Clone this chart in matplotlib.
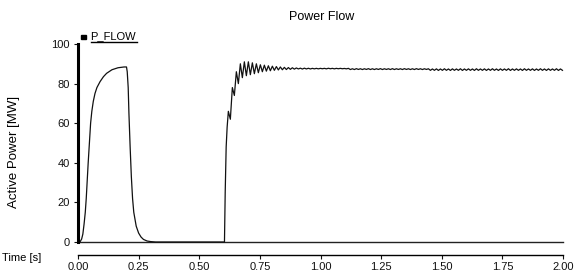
import numpy as np
import matplotlib.pyplot as plt
from matplotlib.lines import Line2D

plt.rcParams['font.family'] = ['Liberation Sans', 'DejaVu Sans']

# first pulse: time (s) and active power (MW)
t_pulse = [0.000, 0.008, 0.015, 0.020, 0.025, 0.030, 0.034, 0.038, 0.042, 0.047,
           0.052, 0.057, 0.063, 0.070, 0.078, 0.091, 0.105, 0.118, 0.140, 0.165,
           0.190, 0.200, 0.203, 0.207, 0.210, 0.215, 0.220,
           0.225, 0.230, 0.240, 0.250, 0.260, 0.270, 0.285, 0.300, 0.320, 0.600,
           0.604, 0.607, 0.611, 0.615]
p_pulse = [0, 0, 1.5, 4, 9, 15, 22, 31, 40, 50,
           60, 66, 71, 75, 78, 81, 83.5, 85.2, 87, 88,
           88.4, 88.4, 86, 78, 65, 48, 33,
           22, 15, 8, 4.5, 2.5, 1.3, 0.5, 0.2, 0, 0,
           0, 25, 48, 58]

# oscillating part after reconnection, sampled every half period from t = 0.62 s
t_osc_start = 0.62
t_osc_step = 0.00825
p_osc = [66, 62, 78, 74, 86, 80, 90, 83, 91, 84,
         91, 84.5, 90.5, 85, 90, 85.5, 89.5, 86, 89.3, 86.3,
         89, 86.5, 88.8, 86.7, 88.6, 86.9, 88.4, 87, 88.2, 87.1,
         88.1, 87.2, 88, 87.3, 87.9, 87.4, 87.8,
         87.35, 87.8, 87.4, 87.75, 87.4, 87.7, 87.45, 87.7, 87.45, 87.7,
         87.5, 87.7, 87.45, 87.75, 87.5, 87.7, 87.45, 87.7, 87.5, 87.7,
         87.5, 87.65, 87.45, 87.7,
         87.1, 87.5, 87.1, 87.55, 87.15, 87.5, 87.1, 87.5, 87.15, 87.55,
         87.1, 87.5, 87.1, 87.5, 87.15, 87.55, 87.1, 87.5, 87.15, 87.5,
         87.1, 87.55, 87.1, 87.5, 87.15, 87.5, 87.1, 87.55, 87.15, 87.5,
         87.1, 87.5, 87.1, 87.55, 87.15, 87.5, 87.1, 87.5, 87.15, 87.5,
         86.7, 87.4, 86.7, 87.45, 86.65, 87.4, 86.7, 87.5, 86.7, 87.4,
         86.65, 87.45, 86.7, 87.4, 86.7, 87.5, 86.65, 87.4, 86.7, 87.45,
         86.7, 87.4, 86.65, 87.5, 86.7, 87.4, 86.7, 87.45, 86.65, 87.4,
         86.7, 87.5, 86.7, 87.4, 86.65, 87.45, 86.7, 87.4, 86.7, 87.5,
         86.65, 87.4, 86.7, 87.45, 86.7, 87.4, 86.65, 87.5, 86.7, 87.4,
         86.7, 87.45, 86.65, 87.4, 86.7, 87.5, 86.7, 87.4, 86.65, 87.45,
         86.7, 87.4, 86.7, 87.5, 86.65, 87.4, 86.7]

t_zero = [0.0, 2.0]
p_zero = [0, 0]

x_ticks = [0.00, 0.25, 0.50, 0.75, 1.00, 1.25, 1.50, 1.75, 2.00]
y_ticks = [0, 20, 40, 60, 80, 100]

t_osc = t_osc_start + t_osc_step * np.arange(len(p_osc))
t_all = np.concatenate([t_pulse, t_osc])
p_all = np.concatenate([p_pulse, p_osc])

W, H = 577, 274
fig = plt.figure(figsize=(W / 100, H / 100), dpi=100)
ax = fig.add_axes([78 / W, 1 - 242 / H, (563 - 78) / W, (242 - 44) / H])

ax.plot(t_zero, p_zero, color='#222222', lw=1.0, clip_on=False)
ax.plot(t_all, p_all, color='#111111', lw=0.9, clip_on=False)

ax.set_xlim(0, 2)
ax.set_ylim(0, 100)
for s in ('top', 'right'):
    ax.spines[s].set_visible(False)
ax.spines['left'].set_linewidth(2.2)
ax.spines['left'].set_bounds(0, 100)
ax.spines['bottom'].set_position(('outward', 9.4))
ax.spines['bottom'].set_linewidth(1.0)

ax.set_xticks(x_ticks)
ax.set_xticklabels(['{:.2f}'.format(v) for v in x_ticks])
ax.set_yticks(y_ticks)
ax.tick_params(axis='both', labelsize=8, length=3, width=0.8, colors='#111111')
ax.tick_params(axis='y', pad=3)
ax.tick_params(axis='x', pad=2)

fig.text(322 / W, 1 - 17 / H, 'Power Flow', ha='center', va='center', fontsize=9)
fig.text(14 / W, 1 - 152 / H, 'Active Power [MW]', ha='center', va='center',
         rotation=90, fontsize=9.5)
fig.text(22 / W, 1 - 258 / H, 'Time [s]', ha='center', va='center', fontsize=8)

# legend entry with underlined label
fig.patches.append(plt.Rectangle((81 / W, 1 - 39 / H), 5 / W, 4 / H, color='black',
                                 transform=fig.transFigure))
fig.text(90 / W, 1 - 36 / H, 'P_FLOW', ha='left', va='center', fontsize=8)
fig.add_artist(Line2D([91 / W, 137 / W], [1 - 42 / H, 1 - 42 / H], color='black',
                      lw=1.0, transform=fig.transFigure))

fig.savefig('out.png', dpi=100)
